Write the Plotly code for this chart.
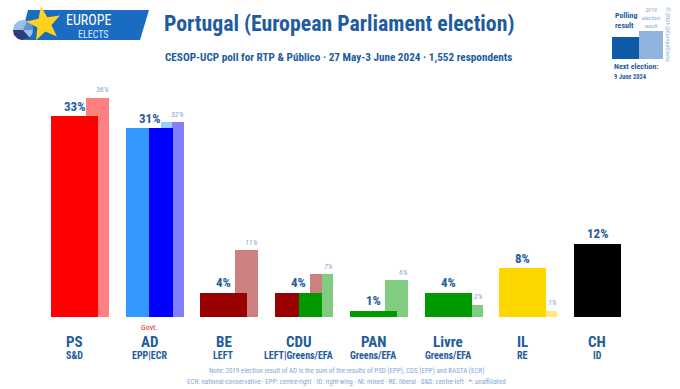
import plotly.graph_objects as go
import math

# ---------------- data ----------------
parties = ["PS", "AD", "BE", "CDU", "PAN", "Livre", "IL", "CH"]
groups = ["S&D", "EPP|ECR", "LEFT", "LEFT|Greens/EFA", "Greens/EFA", "Greens/EFA", "RE", "ID"]
poll = [33, 31, 4, 4, 1, 4, 8, 12]
result_2019 = [36, 32, 11, 7, 6, 2, 1, 0]
poll_colors = [["#ff0000"], ["#3399ff", "#0000ff"], ["#990000"], ["#990000", "#009900"],
               ["#009900"], ["#009900"], ["#ffd700"], ["#000000"]]
prev_colors = [["#ff8080"], ["#99ccff", "#8080ff"], ["#cc8080"], ["#cc8080", "#80cc80"],
               ["#80cc80"], ["#80cc80"], ["#ffeb80"], ["#808080"]]

W, H = 680, 389
BASE = 317          # pixel row of the baseline
PX_PER_CAT = 74.7
FIRST_CENTER = 74.5
PX_PER_PCT = 6.09

FONT = "Liberation Sans Narrow, Roboto Condensed, DejaVu Sans Condensed, Roboto, sans-serif"
DARK = "#1f5c9e"
LIGHT = "#85a9d6"

def px(x):
    return x / W

def py(y):
    return (BASE - y) / BASE

main_w = 47 / PX_PER_CAT
prev_off = (-23.5 + 35) / PX_PER_CAT
prev_w = 23 / PX_PER_CAT

fig = go.Figure()

idx = list(range(len(parties)))
split = [i for i in idx if len(poll_colors[i]) == 2]

# 2019 bars (behind)
fig.add_trace(go.Bar(
    x=idx, y=result_2019,
    offset=[prev_off] * len(idx),
    width=[prev_w / 2 if i in split else prev_w for i in idx],
    marker=dict(color=[prev_colors[i][0] for i in idx], line=dict(width=0)),
    hoverinfo="skip"))
fig.add_trace(go.Bar(
    x=split, y=[result_2019[i] for i in split],
    offset=[prev_off + prev_w / 2] * len(split),
    width=[prev_w / 2] * len(split),
    marker=dict(color=[prev_colors[i][1] for i in split], line=dict(width=0)),
    hoverinfo="skip"))
# poll bars (front)
fig.add_trace(go.Bar(
    x=idx, y=poll,
    offset=[-main_w / 2] * len(idx),
    width=[main_w / 2 if i in split else main_w for i in idx],
    marker=dict(color=[poll_colors[i][0] for i in idx], line=dict(width=0)),
    hoverinfo="skip"))
fig.add_trace(go.Bar(
    x=split, y=[poll[i] for i in split],
    offset=[0] * len(split),
    width=[main_w / 2] * len(split),
    marker=dict(color=[poll_colors[i][1] for i in split], line=dict(width=0)),
    hoverinfo="skip"))

ann = []
for i in idx:
    ann.append(dict(x=i, y=poll[i], xref="x", yref="y", text=f"<b>{poll[i]}%</b>",
                    showarrow=False, yanchor="middle", yshift=10,
                    font=dict(size=13, color=DARK, family=FONT)))
    if result_2019[i] > 0:
        ann.append(dict(x=i + prev_off + prev_w, y=result_2019[i], xref="x", yref="y",
                        text=f"<i>{result_2019[i]}%</i>", showarrow=False,
                        xanchor="right", xshift=2, yanchor="middle", yshift=8,
                        font=dict(size=8, color=LIGHT, family=FONT)))
    ann.append(dict(x=i, y=py(342), xref="x", yref="paper", text=f"<b>{parties[i]}</b>",
                    showarrow=False, yanchor="middle",
                    font=dict(size=15, color=DARK, family=FONT)))
    ann.append(dict(x=i, y=py(356), xref="x", yref="paper", text=f"<b>{groups[i]}</b>",
                    showarrow=False, yanchor="middle",
                    font=dict(size=10, color=DARK, family=FONT)))

ann.append(dict(x=1, y=py(327), xref="x", yref="paper", text="Govt.", showarrow=False,
                yanchor="middle", font=dict(size=8, color="#e02020", family=FONT)))
ann.append(dict(x=px(346), y=py(371), xref="paper", yref="paper",
                text="Note: 2019 election result of AD is the sum of the results of PSD (EPP), CDS (EPP) and BASTA (ECR)",
                showarrow=False, yanchor="middle", font=dict(size=7, color=LIGHT, family=FONT)))
ann.append(dict(x=px(346), y=py(382), xref="paper", yref="paper",
                text="ECR: national-conservative · EPP: centre-right · ID: right-wing · NI: mixed · RE: liberal · S&D: centre-left · *: unaffiliated",
                showarrow=False, yanchor="middle", font=dict(size=7, color=LIGHT, family=FONT)))

# header
ann.append(dict(x=px(162), y=py(24), xref="paper", yref="paper",
                text="<b>Portugal (European Parliament election)</b>", showarrow=False,
                xanchor="left", yanchor="middle", font=dict(size=21.8, color=DARK, family=FONT)))
ann.append(dict(x=px(163), y=py(57), xref="paper", yref="paper",
                text="<b>CESOP-UCP poll for RTP & Público · 27 May-3 June 2024 · 1,552 respondents</b>",
                showarrow=False, xanchor="left", yanchor="middle",
                font=dict(size=11.2, color=DARK, family=FONT)))
ann.append(dict(x=px(64), y=py(20), xref="paper", yref="paper", text="EUROPE", showarrow=False,
                xanchor="left", yanchor="middle", font=dict(size=14, color="white", family=FONT)))
ann.append(dict(x=px(76), y=py(34), xref="paper", yref="paper", text="ELECTS", showarrow=False,
                xanchor="left", yanchor="middle", font=dict(size=10, color="#dde8f8", family=FONT)))
# legend box
ann.append(dict(x=px(613), y=py(20), xref="paper", yref="paper", text="<b>Polling<br>result</b>",
                showarrow=False, xanchor="left", yanchor="middle", align="left",
                font=dict(size=8, color=DARK, family=FONT)))
ann.append(dict(x=px(651), y=py(17), xref="paper", yref="paper", text="<i>2019<br>election<br>result</i>",
                showarrow=False, xanchor="center", yanchor="middle",
                font=dict(size=6, color=LIGHT, family=FONT)))
ann.append(dict(x=px(612), y=py(66), xref="paper", yref="paper", text="<b>Next election:</b>",
                showarrow=False, xanchor="left", yanchor="middle",
                font=dict(size=8, color=DARK, family=FONT)))
ann.append(dict(x=px(612), y=py(77), xref="paper", yref="paper", text="<b>9 June 2024</b>",
                showarrow=False, xanchor="left", yanchor="middle",
                font=dict(size=6.5, color=DARK, family=FONT)))
ann.append(dict(x=px(669), y=py(34), xref="paper", yref="paper", text="© 2024 @EuropeElects",
                showarrow=False, textangle=90, xanchor="center", yanchor="middle",
                font=dict(size=6, color=LIGHT, family=FONT)))

def path(points):
    return "M " + " L ".join(f"{px(a)},{py(b)}" for a, b in points) + " Z"

star_pts = []
cx, cy = 44, 24
for k in range(10):
    r = 18 if k % 2 == 0 else 7.5
    ang = math.radians(-100 + 36 * k)
    star_pts.append((cx + r * math.cos(ang), cy + r * math.sin(ang)))

shapes = [
    dict(type="rect", xref="paper", yref="paper", x0=px(612), x1=px(639), y0=py(59), y1=py(37),
         fillcolor="#0e5aa8", line=dict(width=0)),
    dict(type="rect", xref="paper", yref="paper", x0=px(639), x1=px(663), y0=py(59), y1=py(31),
         fillcolor="#8fb3dd", line=dict(width=0)),
    dict(type="path", xref="paper", yref="paper", path=path([(28, 10), (149, 10), (140, 40), (20, 40)]),
         fillcolor="#1a6cc2", line=dict(width=0)),
    dict(type="circle", xref="paper", yref="paper", x0=px(13), x1=px(33), y0=py(40), y1=py(20),
         fillcolor="#9cc0e4", line=dict(width=0)),
    dict(type="path", xref="paper", yref="paper", path=path([(23, 30), (13, 30), (14, 35), (18, 39), (23, 40), (30, 38)]),
         fillcolor="#2c3d7c", line=dict(width=0)),
    dict(type="path", xref="paper", yref="paper", path=path([(23, 30), (33, 30), (32, 24), (27, 21)]),
         fillcolor="#5f92d2", line=dict(width=0)),
    dict(type="path", xref="paper", yref="paper", path=path(star_pts),
         fillcolor="#ffd21f", line=dict(width=0)),
]

x0 = -FIRST_CENTER / PX_PER_CAT
fig.update_layout(
    width=W, height=H, autosize=False,
    margin=dict(l=0, r=0, t=0, b=H - BASE, pad=0),
    paper_bgcolor="white", plot_bgcolor="white",
    barmode="overlay", bargap=0, showlegend=False,
    xaxis=dict(range=[x0, x0 + W / PX_PER_CAT], visible=False, fixedrange=True),
    yaxis=dict(range=[0, BASE / PX_PER_PCT], visible=False, fixedrange=True),
    annotations=ann, shapes=shapes,
    font=dict(family=FONT),
)

fig.write_html("out.html", config={"displayModeBar": False},
               post_script="document.body.style.margin='0';")
